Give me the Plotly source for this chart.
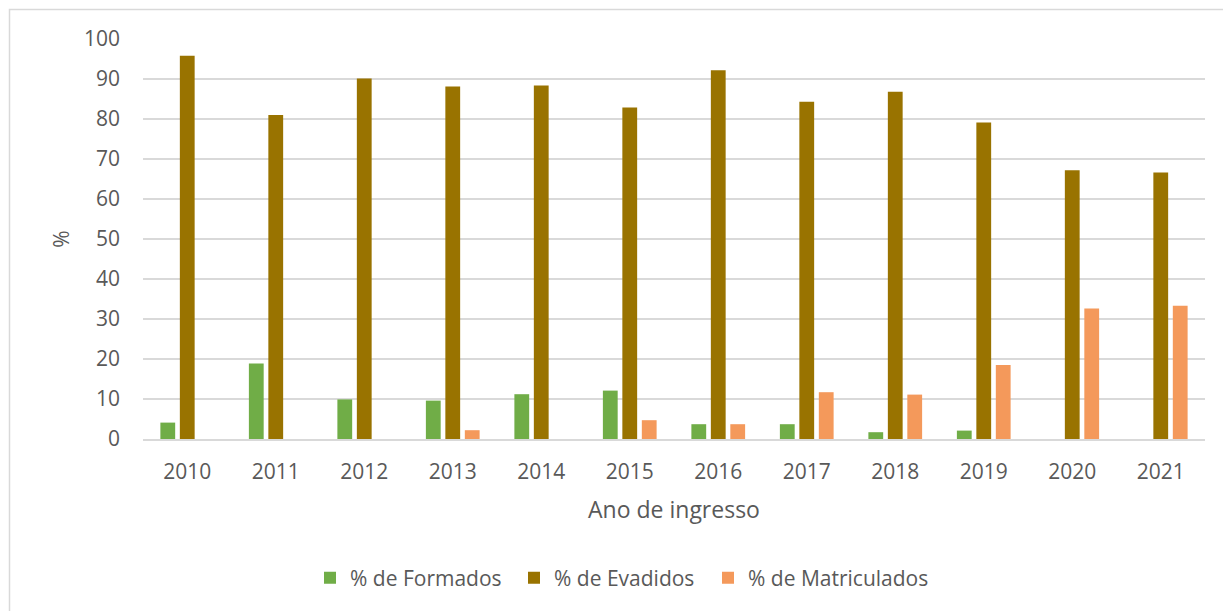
import plotly.graph_objects as go

anos = ["2010", "2011", "2012", "2013", "2014", "2015", "2016", "2017", "2018", "2019", "2020", "2021"]
formados = [4.1, 18.9, 9.9, 9.6, 11.2, 12.1, 3.7, 3.7, 1.7, 2.1, 0, 0]
evadidos = [95.8, 81.0, 90.1, 88.1, 88.4, 82.9, 92.2, 84.3, 86.8, 79.1, 67.2, 66.6]
matriculados = [0, 0, 0, 2.2, 0, 4.7, 3.7, 11.7, 11.1, 18.5, 32.6, 33.3]
tick_vals = [0, 10, 20, 30, 40, 50, 60, 70, 80, 90, 100]

FONT = "Open Sans"
GRAY = "#595959"

# page has an 8px body margin; figure is sized so the plot lands where the reference has it
OFF = 8
W, H = 1231 - OFF, 611 - OFF
L, R, T, B = 135, 26, 31, 172
pw, ph = W - L - R, H - T - B

def px_x(px):  # page px -> paper
    return (px - OFF - L) / pw

def px_y(py):
    return (H - B - (py - OFF)) / ph

fig = go.Figure()
series = [("% de Formados", formados, "#70AD47", "legend", 324),
          ("% de Evadidos", evadidos, "#997300", "legend2", 528),
          ("% de Matriculados", matriculados, "#F4995B", "legend3", 722)]
legends = {}
for name, vals, col, lg, mx in series:
    fig.add_trace(go.Bar(x=anos, y=vals, name=name, legend=lg,
                         marker=dict(color=col, line=dict(width=0))))
    legends[lg] = dict(orientation="h", x=px_x(mx - 14), xanchor="left",
                       y=px_y(578), yanchor="middle", bgcolor="rgba(0,0,0,0)",
                       font=dict(size=21, color=GRAY), itemwidth=30)

fig.update_layout(
    width=W, height=H,
    margin=dict(l=L, r=R, t=T, b=B, pad=0),
    paper_bgcolor="white", plot_bgcolor="white",
    font=dict(family=FONT, color=GRAY, size=21),
    barmode="group", bargap=0.34, bargroupgap=0.24,
    showlegend=True,
    **legends,
    xaxis=dict(
        showgrid=False, showline=True, linecolor="#d9d9d9", linewidth=1.5,
        ticks="", tickfont=dict(size=21, color=GRAY), ticklabelstandoff=13,
        title=dict(text="Ano de ingresso", font=dict(size=23, color=GRAY), standoff=18),
        automargin=False,
    ),
    yaxis=dict(
        range=[0, 100], tickvals=tick_vals, showgrid=True, gridcolor="#d9d9d9", gridwidth=1.5,
        zeroline=False, showline=False, ticks="",
        tickfont=dict(size=21, color=GRAY), ticklabelstandoff=22,
        title=dict(text="%", font=dict(size=21, color=GRAY), standoff=8),
        automargin=False,
    ),
    shapes=[dict(type="rect", xref="paper", yref="paper",
                 x0=px_x(9.5), x1=px_x(1300),
                 y0=px_y(700), y1=px_y(9.5),
                 line=dict(color="#d9d9d9", width=1.5), fillcolor="rgba(0,0,0,0)", layer="below")],
)

fig.write_html("out.html")
